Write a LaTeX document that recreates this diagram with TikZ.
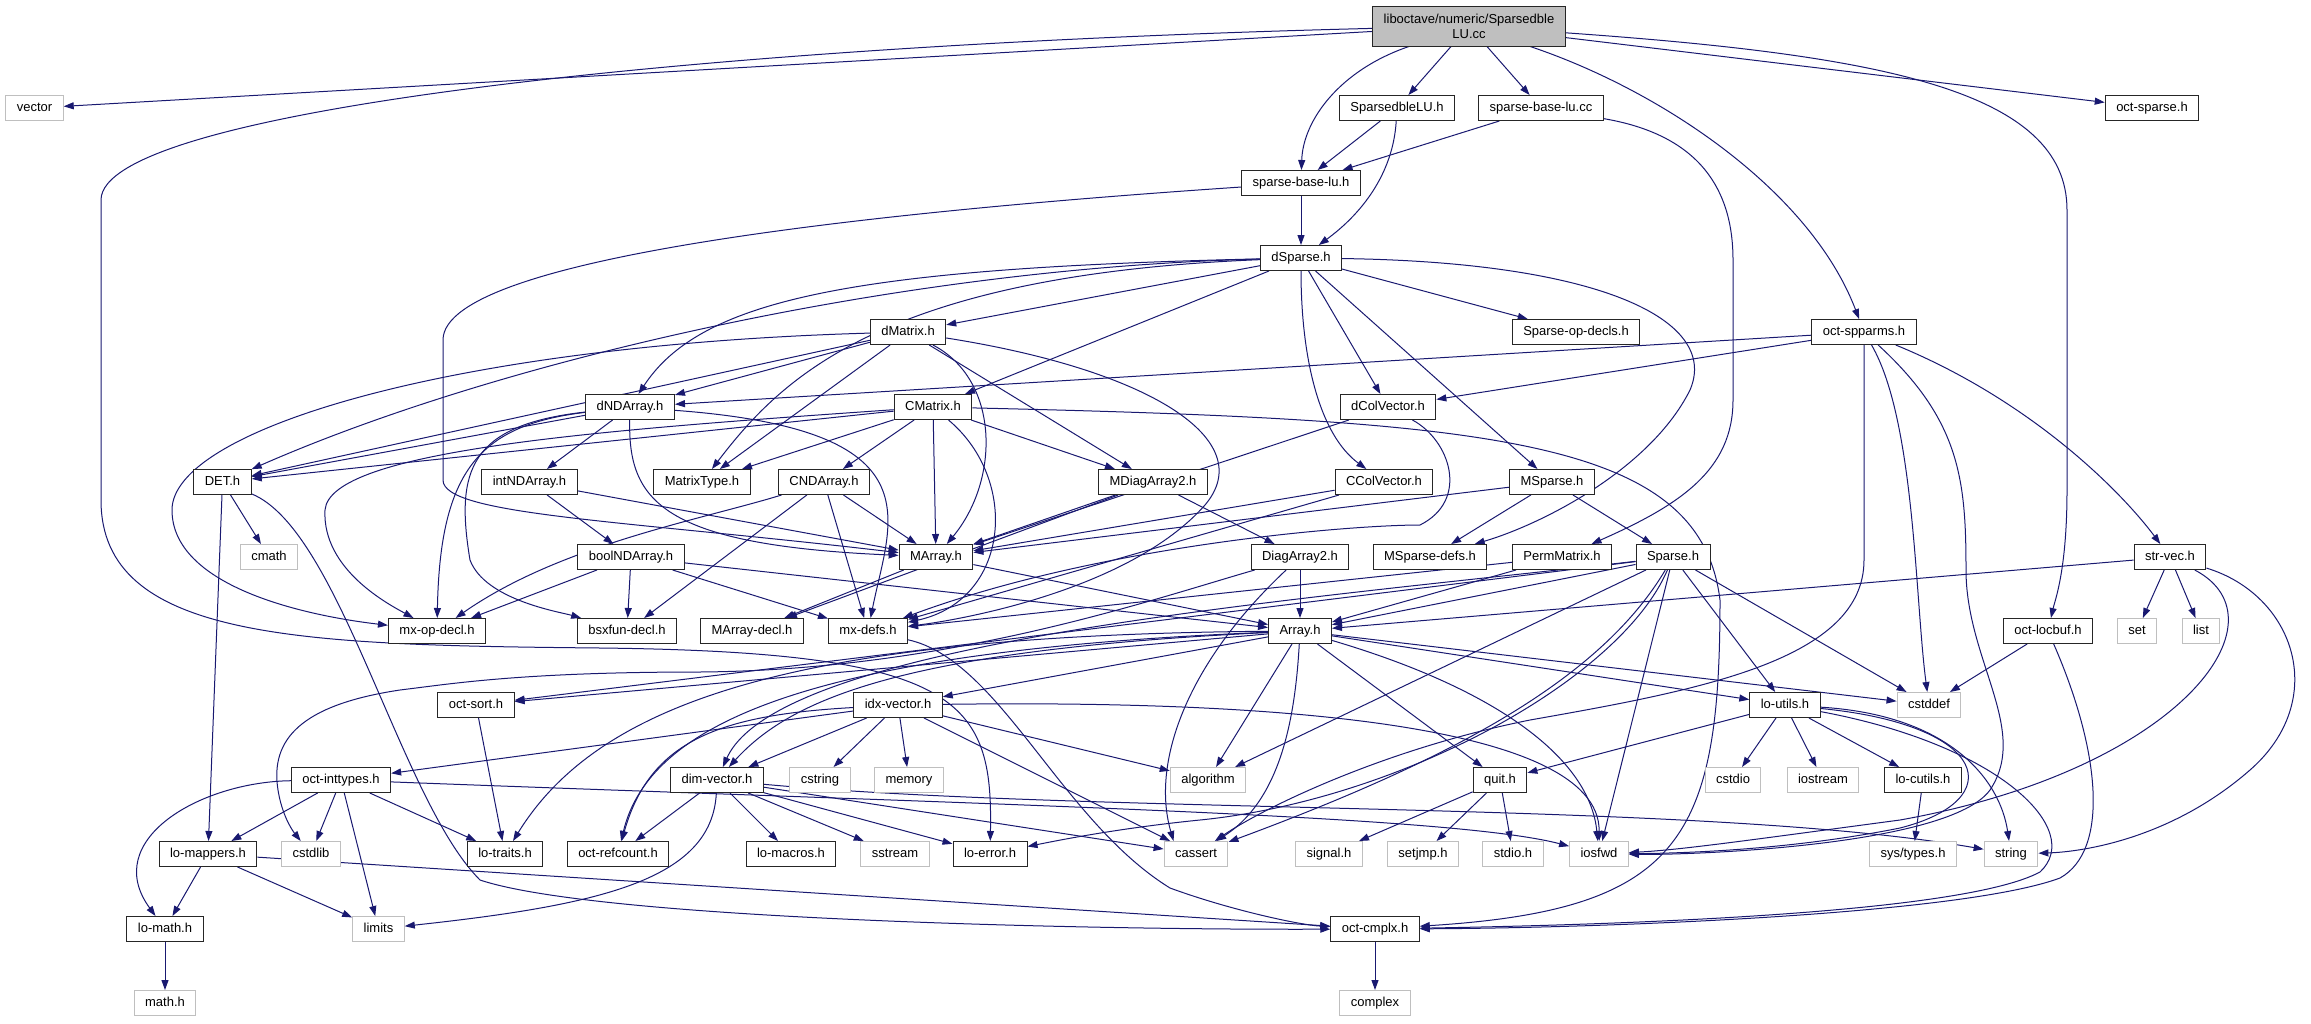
\documentclass[tikz,border=0pt]{standalone}
\usepackage{fontspec}
\setmainfont{Liberation Sans}
\usetikzlibrary{arrows.meta,backgrounds}
\definecolor{edgeblue}{HTML}{191970}
\definecolor{boxgray}{HTML}{BFBFBF}
\tikzset{
  box/.style={draw=black!85, fill=white, line width=1pt, inner xsep=11pt, inner ysep=0pt, font=\fontsize{13}{15}\selectfont},
  hdr/.style={box, minimum height=25pt, text height=9.5pt, text depth=2.7pt},
  sys/.style={hdr, draw=boxgray},
  rootbox/.style={box, fill=boxgray, align=center, minimum height=40pt},
  dep/.style={draw=edgeblue, line width=1pt, -{Triangle[length=10pt,width=7pt]}},
}
\begin{document}
\begin{tikzpicture}[x=1pt,y=-1pt]
    \useasboundingbox (0,0) rectangle (2311,1023);
    % files, row by row
    \node[rootbox] (root) at (1469,26) {liboctave/numeric/Sparsedble\\LU.cc};
    \node[sys] (vector) at (34.5,108) {vector};
    \node[hdr] (sbluh) at (1397,108) {SparsedbleLU.h};
    \node[hdr] (sblucc) at (1541,108) {sparse-base-lu.cc};
    \node[hdr] (octsparse) at (2152,108) {oct-sparse.h};
    \node[hdr] (sbluhh) at (1301,183) {sparse-base-lu.h};
    \node[hdr] (dsparse) at (1301,258) {dSparse.h};
    \node[hdr] (dmatrix) at (908,332) {dMatrix.h};
    \node[hdr] (spopdecls) at (1576,332) {Sparse-op-decls.h};
    \node[hdr] (octspparms) at (1864,332) {oct-spparms.h};
    \node[hdr] (dndarray) at (630,407) {dNDArray.h};
    \node[hdr] (cmatrix) at (933,407) {CMatrix.h};
    \node[hdr] (dcolvec) at (1388,407) {dColVector.h};
    \node[hdr] (det) at (222.5,482) {DET.h};
    \node[hdr] (intnd) at (529.5,482) {intNDArray.h};
    \node[hdr] (mtype) at (702,482) {MatrixType.h};
    \node[hdr] (cnd) at (824,482) {CNDArray.h};
    \node[hdr] (mdiag) at (1153,482) {MDiagArray2.h};
    \node[hdr] (ccolvec) at (1384,482) {CColVector.h};
    \node[hdr] (msparse) at (1552,482) {MSparse.h};
    \node[sys] (cmath) at (269,557) {cmath};
    \node[hdr] (boolnd) at (631,557) {boolNDArray.h};
    \node[hdr] (marray) at (936,557) {MArray.h};
    \node[hdr] (diag) at (1300,557) {DiagArray2.h};
    \node[hdr] (msdefs) at (1430,557) {MSparse-defs.h};
    \node[hdr] (perm) at (1562,557) {PermMatrix.h};
    \node[hdr] (sparse) at (1673,557) {Sparse.h};
    \node[hdr] (strvec) at (2170,557) {str-vec.h};
    \node[hdr] (mxop) at (437,631) {mx-op-decl.h};
    \node[hdr] (bsx) at (627,631) {bsxfun-decl.h};
    \node[hdr] (madecl) at (752,631) {MArray-decl.h};
    \node[hdr] (mxdefs) at (868,631) {mx-defs.h};
    \node[hdr] (arrayh) at (1300,631) {Array.h};
    \node[hdr] (locbuf) at (2048,631) {oct-locbuf.h};
    \node[sys] (set) at (2137,631) {set};
    \node[sys] (list) at (2201,631) {list};
    \node[hdr] (octsort) at (476,705) {oct-sort.h};
    \node[hdr] (idx) at (898,705) {idx-vector.h};
    \node[hdr] (loutils) at (1785,705) {lo-utils.h};
    \node[sys] (cstddef) at (1929,705) {cstddef};
    \node[hdr] (inttypes) at (341,780) {oct-inttypes.h};
    \node[hdr] (dimvec) at (717,780) {dim-vector.h};
    \node[sys] (cstring) at (820,780) {cstring};
    \node[sys] (memory) at (909,780) {memory};
    \node[sys] (algorithm) at (1208,780) {algorithm};
    \node[hdr] (quit) at (1500,780) {quit.h};
    \node[sys] (cstdio) at (1733,780) {cstdio};
    \node[sys] (iostream) at (1823,780) {iostream};
    \node[hdr] (locutils) at (1923,780) {lo-cutils.h};
    \node[hdr] (lomappers) at (208,854) {lo-mappers.h};
    \node[sys] (cstdlib) at (311,854) {cstdlib};
    \node[hdr] (lotraits) at (505,854) {lo-traits.h};
    \node[hdr] (refcount) at (618,854) {oct-refcount.h};
    \node[hdr] (lomacros) at (791,854) {lo-macros.h};
    \node[sys] (sstream) at (895,854) {sstream};
    \node[hdr] (loerror) at (990,854) {lo-error.h};
    \node[sys] (cassert) at (1196,854) {cassert};
    \node[sys] (signal) at (1329,854) {signal.h};
    \node[sys] (setjmp) at (1423,854) {setjmp.h};
    \node[sys] (stdio) at (1513,854) {stdio.h};
    \node[sys] (iosfwd) at (1599,854) {iosfwd};
    \node[sys] (systypes) at (1913,854) {sys/types.h};
    \node[sys] (string) at (2011,854) {string};
    \node[hdr] (lomath) at (165,929) {lo-math.h};
    \node[sys] (limits) at (378.5,929) {limits};
    \node[hdr] (cmplx) at (1375,929) {oct-cmplx.h};
    \node[sys] (mathh) at (165,1003) {math.h};
    \node[sys] (complex) at (1375,1003) {complex};

    \begin{scope}[on background layer]
    % straight includes
    \foreach \a/\b in {root/sbluh, root/sblucc, root/vector, root/octsparse,
        sbluh/sbluhh, sblucc/sbluhh, sbluhh/dsparse,
        dsparse/dmatrix, dsparse/cmatrix, dsparse/dcolvec, dsparse/msparse, dsparse/spopdecls,
        dmatrix/dndarray, dmatrix/det, dmatrix/mtype, dmatrix/mdiag,
        octspparms/dndarray, octspparms/dcolvec,
        dndarray/det, dndarray/intnd,
        cmatrix/det, cmatrix/mtype, cmatrix/cnd, cmatrix/marray, cmatrix/mdiag,
        dcolvec/marray, det/cmath, det/lomappers, intnd/boolnd, intnd/marray,
        cnd/bsx, cnd/mxdefs, cnd/marray,
        mdiag/diag, mdiag/marray, mdiag/madecl, ccolvec/marray, ccolvec/mxdefs,
        msparse/marray, msparse/msdefs, msparse/sparse,
        boolnd/mxop, boolnd/bsx, boolnd/mxdefs, boolnd/arrayh,
        marray/madecl, marray/arrayh, diag/arrayh, perm/arrayh, perm/mxdefs,
        sparse/arrayh, sparse/octsort, sparse/algorithm, sparse/loutils, sparse/cstddef, sparse/iosfwd,
        strvec/arrayh, strvec/set, strvec/list,
        arrayh/octsort, arrayh/idx, arrayh/algorithm, arrayh/quit, arrayh/loutils, arrayh/cstddef,
        locbuf/cstddef, octsort/lotraits,
        idx/inttypes, idx/dimvec, idx/cstring, idx/memory, idx/algorithm, idx/cassert,
        loutils/quit, loutils/cstdio, loutils/iostream, loutils/locutils,
        inttypes/lomappers, inttypes/cstdlib, inttypes/limits, inttypes/lotraits,
        dimvec/refcount, dimvec/lomacros, dimvec/sstream, dimvec/loerror, dimvec/cassert,
        quit/signal, quit/setjmp, quit/stdio, locutils/systypes,
        lomappers/lomath, lomappers/limits, lomappers/cmplx,
        lomath/mathh, cmplx/complex}
        \draw[dep] (\a) -- (\b);
    % routed includes
    \draw[dep] (root) .. controls (700,45) and (101,110) .. (101,200) -- (101,500)
        .. controls (101,640) and (300,645) .. (600,648) .. controls (960,652) and (993,700) .. (loerror);
    \draw[dep] (root) .. controls (1340,70) and (1303,120) .. (sbluhh);
    \draw[dep] (root) .. controls (1660,90) and (1810,190) .. (octspparms);
    \draw[dep] (root) .. controls (1880,55) and (2067,90) .. (2067,210) -- (2067,490)
        .. controls (2067,570) and (2055,600) .. (locbuf);
    \draw[dep] (sbluh) .. controls (1393,175) and (1360,215) .. (dsparse);
    \draw[dep] (sblucc) .. controls (1700,135) and (1733,190) .. (1733,260) -- (1733,400)
        .. controls (1733,470) and (1680,505) .. (perm);
    \draw[dep] (sbluhh) .. controls (900,210) and (443,255) .. (443,340) -- (443,480)
        .. controls (443,515) and (620,520) .. (marray);
    \draw[dep] (dsparse) .. controls (850,268) and (700,300) .. (dndarray);
    \draw[dep] (dsparse) .. controls (900,268) and (500,360) .. (det);
    \draw[dep] (dsparse) .. controls (880,275) and (780,380) .. (mtype);
    \draw[dep] (dsparse) .. controls (1301,360) and (1320,435) .. (ccolvec);
    \draw[dep] (dsparse) .. controls (1600,262) and (1720,320) .. (1690,390)
        .. controls (1650,470) and (1540,525) .. (msdefs);
    \draw[dep] (dmatrix) .. controls (450,345) and (172,430) .. (172,510)
        .. controls (172,585) and (300,615) .. (mxop);
    \draw[dep] (dmatrix) .. controls (1000,380) and (1000,480) .. (marray);
    \draw[dep] (dmatrix) .. controls (1150,370) and (1260,440) .. (1205,505)
        .. controls (1130,590) and (960,620) .. (mxdefs);
    \draw[dep] (octspparms) -- (1864,560) .. controls (1864,660) and (1700,690) .. (1530,720)
        .. controls (1380,750) and (1260,810) .. (cassert);
    \draw[dep] (octspparms) .. controls (1915,420) and (1915,600) .. (cstddef);
    \draw[dep] (octspparms) .. controls (1960,420) and (1966,480) .. (1966,570)
        .. controls (1966,660) and (2030,730) .. (1990,790) .. controls (1950,845) and (1700,855) .. (iosfwd);
    \draw[dep] (octspparms) .. controls (2030,400) and (2120,490) .. (strvec);
    \draw[dep] (dndarray) .. controls (628,500) and (660,545) .. (marray);
    \draw[dep] (dndarray) .. controls (940,430) and (890,520) .. (mxdefs);
    \draw[dep] (dndarray) .. controls (480,425) and (440,470) .. (mxop);
    \draw[dep] (dndarray) .. controls (470,425) and (455,470) .. (470,560)
        .. controls (485,600) and (560,612) .. (bsx);
    \draw[dep] (cmatrix) .. controls (600,430) and (330,450) .. (325,510)
        .. controls (322,570) and (390,605) .. (mxop);
    \draw[dep] (cmatrix) .. controls (1020,480) and (1010,600) .. (mxdefs);
    \draw[dep] (cmatrix) .. controls (1500,420) and (1700,440) .. (1720,600)
        .. controls (1720,840) and (1680,910) .. (cmplx);
    \draw[dep] (cnd) .. controls (700,520) and (560,545) .. (mxop);
    \draw[dep] (dcolvec) .. controls (1450,440) and (1470,500) .. (1420,525)
        .. controls (1350,525) and (1100,545) .. (mxdefs);
    \draw[dep] (det) .. controls (340,530) and (400,800) .. (480,880)
        .. controls (600,920) and (1100,930) .. (cmplx);
    \draw[dep] (diag) .. controls (1190,660) and (1150,760) .. ([xshift=10pt]cassert.north west);
    \draw[dep] (diag) .. controls (1150,600) and (950,670) .. (700,672)
        .. controls (520,672) and (450,684) .. (400,690) .. controls (300,705) and (270,740) .. (278,790)
        .. controls (282,815) and (292,830) .. (cstdlib);
    \draw[dep] (sparse) .. controls (1300,600) and (780,640) .. (dimvec);
    \draw[dep] (sparse) .. controls (1620,680) and (1400,800) .. (1200,820)
        .. controls (1120,828) and (1060,840) .. (loerror);
    \draw[dep] (sparse) .. controls (1600,680) and (1450,760) .. (cassert);
    \draw[dep] (strvec) .. controls (2290,620) and (2180,770) .. (1900,820)
        .. controls (1750,840) and (1680,850) .. (iosfwd);
    \draw[dep] (strvec) .. controls (2295,595) and (2330,700) .. (2250,770)
        .. controls (2170,840) and (2080,852) .. (string);
    \draw[dep] (mxdefs) .. controls (1000,660) and (1060,820) .. (1170,888)
        .. controls (1230,910) and (1300,925) .. (cmplx);
    \draw[dep] (arrayh) .. controls (900,650) and (790,700) .. (dimvec);
    \draw[dep] (arrayh) .. controls (800,635) and (600,700) .. (lotraits);
    \draw[dep] (arrayh) .. controls (820,650) and (650,720) .. (refcount);
    \draw[dep] (arrayh) .. controls (1295,720) and (1280,800) .. (cassert);
    \draw[dep] (arrayh) .. controls (1500,690) and (1590,760) .. (iosfwd);
    \draw[dep] (idx) .. controls (1250,700) and (1600,720) .. (iosfwd);
    \draw[dep] (idx) .. controls (720,715) and (650,740) .. (refcount);
    \draw[dep] (loutils) .. controls (1950,715) and (2000,780) .. (string);
    \draw[dep] (loutils) .. controls (1990,725) and (2010,800) .. (1900,828)
        .. controls (1800,848) and (1700,853) .. (iosfwd);
    \draw[dep] (loutils) .. controls (2000,745) and (2085,830) .. (2040,872)
        .. controls (1960,915) and (1600,925) .. (cmplx);
    \draw[dep] (locbuf) .. controls (2100,750) and (2110,850) .. (2060,878)
        .. controls (1960,915) and (1600,928) .. (cmplx);
    \draw[dep] (inttypes) .. controls (200,782) and (100,840) .. (lomath);
    \draw[dep] (inttypes) .. controls (1000,805) and (1450,815) .. (iosfwd);
    \draw[dep] (dimvec) .. controls (712,880) and (600,905) .. (limits);
    \draw[dep] (dimvec) .. controls (1100,815) and (1700,800) .. (string);
    \end{scope}
\end{tikzpicture}
\end{document}
